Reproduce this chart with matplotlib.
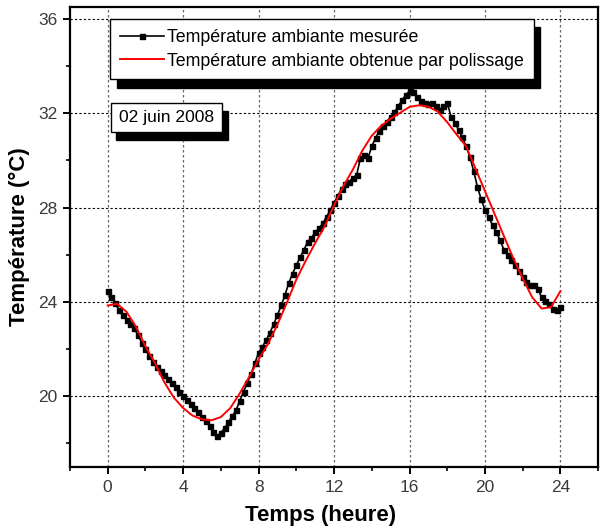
import numpy as np
import matplotlib
matplotlib.use("Agg")
import matplotlib.pyplot as plt
from matplotlib.ticker import MultipleLocator
from matplotlib.patches import Rectangle

plt.rcParams['font.family'] = ['Liberation Sans', 'DejaVu Sans']

# measured ambient temperature, one reading every 0.2 h
heures_mes = np.round(np.arange(0, 24.01, 0.2), 1)
temp_mes = [
    24.45, 24.2, 23.95, 23.65, 23.45, 23.25, 23.05, 22.88, 22.6, 22.28,
    22.0, 21.72, 21.46, 21.25, 21.08, 20.9, 20.74, 20.57, 20.4, 20.2,
    20.02, 19.85, 19.67, 19.5, 19.32, 19.13, 18.95, 18.75, 18.5, 18.3,
    18.45, 18.65, 18.9, 19.15, 19.4, 19.8, 20.2, 20.55, 20.95, 21.4,
    21.85, 22.1, 22.38, 22.7, 23.05, 23.45, 23.85, 24.3, 24.8, 25.2,
    25.55, 25.9, 26.2, 26.55, 26.72, 26.95, 27.12, 27.33, 27.6, 27.9,
    28.2, 28.5, 28.8, 29.0, 29.1, 29.25, 29.4, 30.1, 30.25, 30.1,
    30.6, 30.95, 31.25, 31.47, 31.65, 31.85, 32.05, 32.3, 32.55, 32.78,
    32.95, 32.9, 32.7, 32.5, 32.45, 32.38, 32.42, 32.3, 32.15, 32.3,
    32.45, 31.85, 31.6, 31.3, 30.98, 30.6, 30.15, 29.55, 28.88, 28.35,
    27.9, 27.6, 27.25, 26.95, 26.62, 26.22, 26.0, 25.78, 25.55, 25.3,
    25.05, 24.85, 24.72, 24.7, 24.55, 24.2, 24.05, 23.9, 23.72, 23.65,
    23.78,
]

# smoothed curve, every 0.5 h
heures_lis = np.arange(0, 24.01, 0.5)
temp_lis = [
    23.85, 23.92, 23.58, 22.95, 22.12, 21.42, 20.6, 19.95, 19.5, 19.18,
    19.02, 18.98, 19.12, 19.5, 20.12, 20.82, 21.56, 22.22, 23.05, 23.97,
    24.95, 25.75, 26.5, 27.2, 28.1, 28.92, 29.62, 30.42, 31.05, 31.47,
    31.77, 32.02, 32.27, 32.34, 32.28, 32.07, 31.62, 31.1, 30.6, 29.65,
    28.7, 27.75, 26.8, 25.85, 25.0, 24.2, 23.72, 23.78, 24.46,
]

fig = plt.figure(figsize=(6.03, 5.31), dpi=100)
ax = fig.add_axes([0.116, 0.1205, 0.876, 0.866])

ax.plot(heures_mes, temp_mes, color='black', lw=1.2, marker='s', ms=3.6,
        label='Température ambiante mesurée', zorder=3)
ax.plot(heures_lis, temp_lis, color='red', lw=1.4,
        label='Température ambiante obtenue par polissage', zorder=4)

ax.set_xlim(-2, 26)
ax.set_ylim(17, 36.5)
ax.xaxis.set_major_locator(MultipleLocator(4))
ax.xaxis.set_minor_locator(MultipleLocator(2))
ax.yaxis.set_major_locator(MultipleLocator(4))
ax.yaxis.set_minor_locator(MultipleLocator(2))

ax.xaxis.grid(True, color='#666666', ls=(0, (2, 2)), lw=0.9)
ax.yaxis.grid(True, color='black', ls=(0, (2, 2)), lw=0.8)
ax.set_axisbelow(True)

for s in ax.spines.values():
    s.set_linewidth(1.6)
ax.tick_params(which='major', direction='out', length=5, width=1.4,
               labelsize=12.5, labelcolor='#3a3a3a', pad=4)
ax.tick_params(which='minor', direction='out', length=3, width=1.2)

ax.set_xlabel('Temps (heure)', fontsize=16, fontweight='bold')
ax.xaxis.set_label_coords(0.475, -0.083)
ax.set_ylabel('Température (°C)', fontsize=16, fontweight='bold', labelpad=6)

leg = ax.legend(loc='upper left', bbox_to_anchor=(0.0758, 0.974),
                borderaxespad=0, fontsize=12.8, fancybox=False,
                edgecolor='black', framealpha=1, numpoints=1,
                handlelength=2.5, handletextpad=0.15, labelspacing=0.38,
                borderpad=0.55,
                shadow={'ox': 5, 'oy': -6, 'facecolor': 'black',
                        'edgecolor': 'black', 'alpha': 1})
leg.get_frame().set_linewidth(1.0)
leg.set_zorder(6)

# date box with a black drop shadow
ax.add_patch(Rectangle((0.088, 0.711), 0.211, 0.063, transform=ax.transAxes,
                       facecolor='black', edgecolor='black', zorder=6))
ax.add_patch(Rectangle((0.0777, 0.728), 0.211, 0.063, transform=ax.transAxes,
                       facecolor='white', edgecolor='black', lw=1.0, zorder=7))
ax.text(0.183, 0.7595, '02 juin 2008', transform=ax.transAxes, fontsize=12.6,
        ha='center', va='center', zorder=8)

fig.savefig('out.png', dpi=100)
